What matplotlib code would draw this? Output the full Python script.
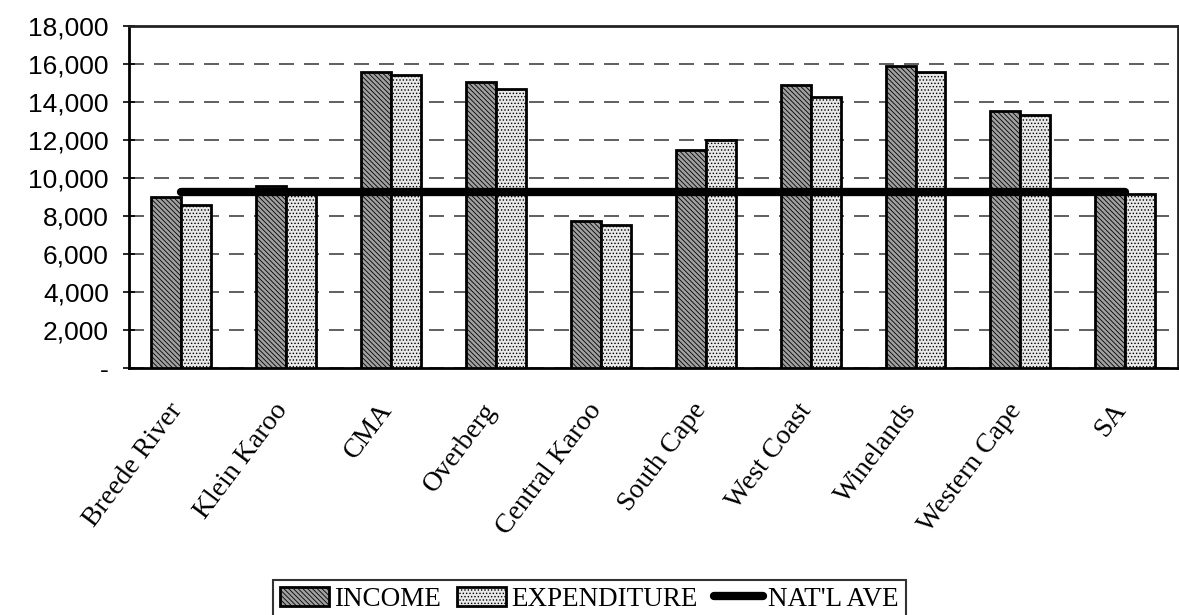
import numpy as np
import matplotlib
matplotlib.use("Agg")
import matplotlib.pyplot as plt
import matplotlib.transforms as mtransforms
from matplotlib.ticker import FuncFormatter

regions = ["Breede River", "Klein Karoo", "CMA", "Overberg", "Central Karoo",
           "South Cape", "West Coast", "Winelands", "Western Cape", "SA"]
income = [9000, 9600, 15600, 15050, 7750, 11450, 14900, 15900, 13550, 9250]
expenditure = [8600, 9250, 15400, 14700, 7550, 12000, 14250, 15600, 13300, 9150]
nat_ave = [9280] * len(regions)

plt.rcParams['hatch.linewidth'] = 0.6

fig = plt.figure(figsize=(11.79, 6.15), dpi=100)
ax = fig.add_axes([0.1094, 0.4016, 0.8895, 0.5561])

x = np.arange(len(regions))
w = 0.2857

# hatch colour is picked up when each patch is created
plt.rcParams['hatch.color'] = '#2e2e2e'
b1 = ax.bar(x - w / 2, income, w, facecolor='#a0a0a0', edgecolor='black',
            linewidth=2.0, hatch='\\\\\\\\\\\\\\', label='INCOME', zorder=3)
plt.rcParams['hatch.color'] = '#c4c4c4'
b2 = ax.bar(x + w / 2, expenditure, w, facecolor='#e8e8e8', edgecolor='black',
            linewidth=2.0, hatch='.....', label='EXPENDITURE', zorder=3)
ln, = ax.plot(x, nat_ave, color='black', linewidth=6, solid_capstyle='round',
              label="NAT'L AVE", zorder=4)

ax.set_xlim(-0.5, len(regions) - 0.5)
ax.set_ylim(0, 18000)
ax.set_yticks(np.arange(0, 18001, 2000))
ax.yaxis.set_major_formatter(FuncFormatter(lambda v, p: '-' if v == 0 else f'{int(v):,}'))
ax.tick_params(axis='y', direction='inout', length=9, width=1.2, pad=10,
               labelsize=19)
for t in ax.get_yticklabels():
    t.set_fontfamily('Liberation Sans')
ax.set_xticks(x)
ax.set_xticklabels(regions, rotation=53, ha='right', va='top',
                   rotation_mode='anchor', fontsize=20, family='Liberation Serif')
ax.tick_params(axis='x', length=0, pad=22)
shift = mtransforms.ScaledTranslation(-10 / 72, 0, fig.dpi_scale_trans)
for t in ax.get_xticklabels():
    t.set_transform(t.get_transform() + shift)

ax.grid(axis='y', color='#444444', linestyle=(0, (9, 6)), linewidth=1.2, zorder=0)
for s in ax.spines.values():
    s.set_linewidth(2.0)
    s.set_color('black')
ax.spines['top'].set_color('#222222')
ax.spines['right'].set_color('#222222')

leg = fig.legend(handles=[b1, b2, ln], loc='upper center', bbox_to_anchor=(0.5, 0.057),
                 ncol=3, frameon=True, fancybox=False, edgecolor='black',
                 prop={'family': 'Liberation Serif', 'size': 19.5},
                 handlelength=1.8, handleheight=0.7, handletextpad=0.2,
                 columnspacing=0.6, borderpad=0.25, borderaxespad=0)
leg.get_frame().set_linewidth(1.5)

fig.savefig('out.png', dpi=100)
